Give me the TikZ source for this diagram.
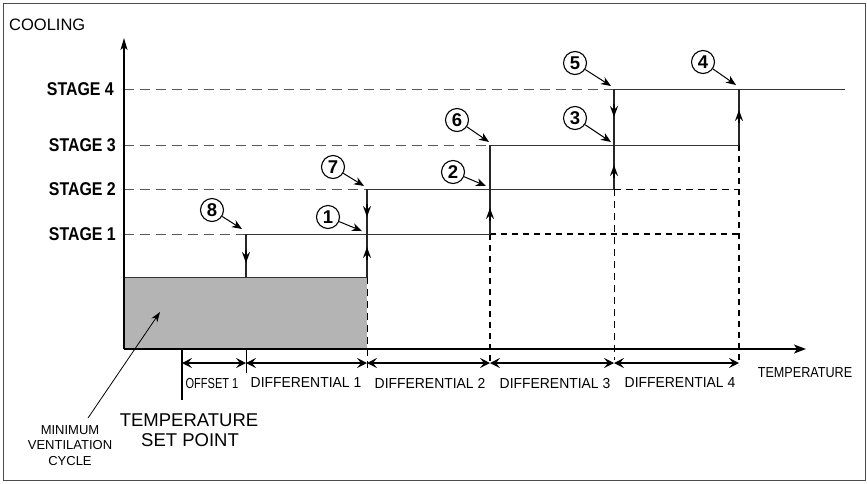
\documentclass[tikz,border=0pt]{standalone}
\usepackage{fontspec}
\setmainfont{Liberation Sans}
\usetikzlibrary{arrows.meta}
\definecolor{boxgray}{RGB}{180,180,180}
\begin{document}
\begin{tikzpicture}[x=1pt,y=-1pt,
  axis/.style={line width=1.4pt, black},
  stageline/.style={line width=1pt, black!80},
  guide/.style={line width=0.9pt, black!65, dash pattern=on 10pt off 6pt},
  thickdash/.style={line width=1.7pt, black, dash pattern=on 6pt off 5pt},
  thindash/.style={line width=1pt, black, dash pattern=on 7pt off 5pt},
  vline/.style={line width=1.3pt, black!85},
  head/.style={-{Stealth[length=11pt,width=8pt,inset=4pt]}, line width=1.3pt},
  dim/.style={{Stealth[length=10pt,width=10pt,inset=4pt]}-{Stealth[length=10pt,width=10pt,inset=4pt]}, line width=1.2pt},
  num/.style={circle, draw, line width=1.1pt, minimum size=23pt, inner sep=0pt, font=\fontsize{18.5}{18.5}\selectfont\bfseries},
  callout/.style={-{Stealth[length=10pt,width=8pt,inset=3pt]}, line width=1pt},
  lbl/.style={inner sep=0pt, font=\fontsize{14.5}{16}\selectfont},
  stage/.style={inner sep=0pt, anchor=east, font=\fontsize{18.5}{18.5}\selectfont\bfseries},
]
\useasboundingbox (0,0) rectangle (867,483);
\draw[black!70, line width=1pt] (3,3) rectangle (865,480);

% minimum ventilation box
\fill[boxgray] (124,277) rectangle (367,349);
\draw[stageline] (124,277) -- (367,277);

% guide lines
\draw[guide] (124,89) -- (614,89);
\draw[guide] (124,145) -- (490,145);
\draw[guide] (124,189) -- (367,189);
\draw[guide] (124,234) -- (246,234);
\draw[thindash] (614,189) -- (739,189);
\draw[thickdash] (490,234) -- (739,234);
\draw[thindash] (367,277) -- (367,370);
\draw[thickdash] (490,234) -- (490,363);
\draw[thindash] (614,189) -- (614,360);
\draw[thickdash] (739,145) -- (739,365);

% stage lines
\draw[stageline] (246,234) -- (490,234);
\draw[stageline] (367,189) -- (614,189);
\draw[stageline] (490,145) -- (739,145);
\draw[stageline] (614,89) -- (845,89);

% verticals
\draw[vline] (246,234) -- (246,277);
\draw[vline] (367,189) -- (367,277);
\draw[vline] (490,145) -- (490,234);
\draw[vline] (614,89) -- (614,189);
\draw[vline] (739,89) -- (739,145);

\draw[head] (246,250) -- (246,263);
\draw[head] (367,204) -- (367,217);
\draw[head] (367,260) -- (367,247);
\draw[head] (490,221) -- (490,208);
\draw[head] (614,104) -- (614,117);
\draw[head] (614,178) -- (614,165);
\draw[head] (739,123) -- (739,110);

% axes
\draw[axis, -{Stealth[length=12pt,width=7pt,inset=3pt]}] (124,349) -- (124,38);
\draw[axis, -{Stealth[length=12pt,width=9pt,inset=3pt]}] (124,349) -- (806,349);

% dimensions
\draw[line width=1.3pt] (182,349) -- (182,400);
\draw[line width=0.8pt] (246,349) -- (246,373);
\draw[dim] (182,363) -- (246,363);
\draw[dim] (246,363) -- (367,363);
\draw[dim] (367,363) -- (490,363);
\draw[dim] (490,363) -- (614,363);
\draw[dim] (614,363) -- (739,363);

% labels
\node[lbl, anchor=west, font=\fontsize{16.5}{18}\selectfont] (cool) at (9,25) {COOLING};
\node[stage] (s4) at (114,89) {\scalebox{0.86}[1]{STAGE 4}};
\node[stage] (s3) at (116,145) {\scalebox{0.86}[1]{STAGE 3}};
\node[stage] (s2) at (116,189) {\scalebox{0.86}[1]{STAGE 2}};
\node[stage] (s1) at (116,234) {\scalebox{0.86}[1]{STAGE 1}};

\node[lbl] (off) at (212,383) {\scalebox{0.76}[1]{OFFSET 1}};
\node[lbl] (d1) at (306,383) {\scalebox{0.96}[1]{DIFFERENTIAL 1}};
\node[lbl] (d2) at (430,383) {\scalebox{0.96}[1]{DIFFERENTIAL 2}};
\node[lbl] (d3) at (555,383) {\scalebox{0.96}[1]{DIFFERENTIAL 3}};
\node[lbl] (d4) at (680,383) {\scalebox{0.96}[1]{DIFFERENTIAL 4}};
\node[lbl] (temp) at (805,373) {\scalebox{0.87}[1]{TEMPERATURE}};

\node[lbl, font=\fontsize{18.5}{20}\selectfont] (tsp1) at (189,420) {TEMPERATURE};
\node[lbl, font=\fontsize{18.5}{20}\selectfont] (tsp2) at (190,440) {SET POINT};

\node[lbl, font=\fontsize{13}{14}\selectfont] (mv1) at (70,430) {MINIMUM};
\node[lbl, font=\fontsize{13}{14}\selectfont] (mv2) at (70,445) {VENTILATION};
\node[lbl, font=\fontsize{13}{14}\selectfont] (mv3) at (70,461) {CYCLE};
\coordinate (mvtail) at (88,418);
\coordinate (mvtip) at (160,312);
\draw[-{Stealth[length=10pt,width=7pt,inset=3pt]}, line width=0.8pt] (mvtail) -- (mvtip);

% callouts
\node[num] (n8) at (212,210) {8};
\node[num] (n1) at (328,217) {1};
\node[num] (n7) at (333,167) {7};
\node[num] (n2) at (453,172) {2};
\node[num] (n6) at (457,120) {6};
\node[num] (n5) at (575,63) {5};
\node[num] (n3) at (575,118) {3};
\node[num] (n4) at (703,62) {4};
\coordinate (t8) at (242,229);
\coordinate (t1) at (362,231);
\coordinate (t7) at (364,186);
\coordinate (t2) at (486,186);
\coordinate (t6) at (489,142);
\coordinate (t5) at (611,86);
\coordinate (t3) at (611,142);
\coordinate (t4) at (736,85);
\foreach \n in {8,1,7,2,6,5,3,4} \draw[callout] (n\n) -- (t\n);
\end{tikzpicture}
\end{document}
